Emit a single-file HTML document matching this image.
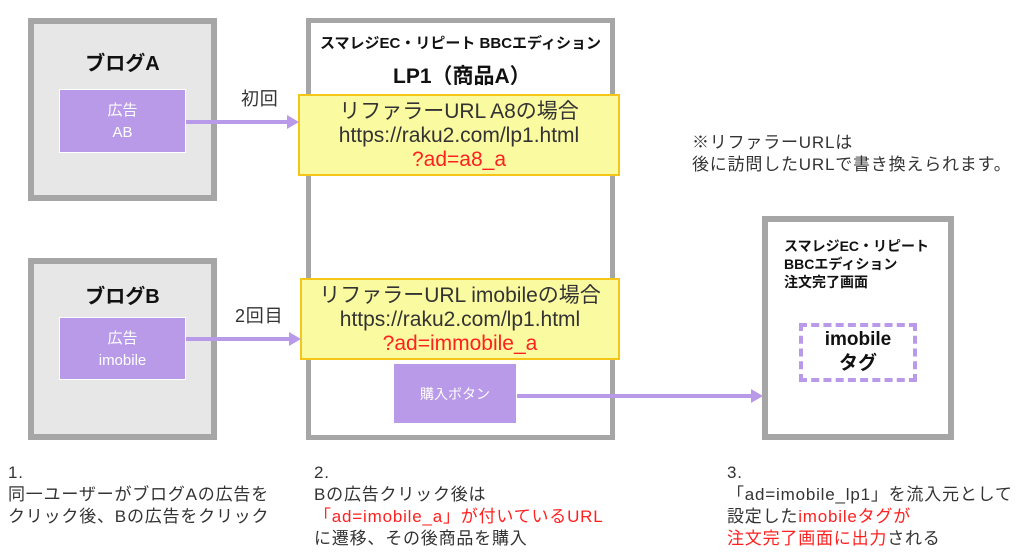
<!DOCTYPE html>
<html><head><meta charset="utf-8"><style>
body{margin:0;width:1024px;height:552px;background:#fff;position:relative;overflow:hidden;font-family:"Liberation Sans","Noto Sans CJK JP",sans-serif;color:#222}
div{position:absolute;box-sizing:border-box}
.blog{border:6px solid #a6a6a6;background:#e7e7e7}
.ad{background:#b89ae8;border:1.5px solid #fff;color:#fff;font-size:15px;text-align:center;line-height:22px}
.yel{background:#fafaa0;border:2px solid #f5c518;text-align:center;font-size:21px;line-height:24px;color:#333;white-space:nowrap}
.r{color:#ff2020}
.line{background:#b89ae8;height:4px}
.ah{width:0;height:0;border-top:7px solid transparent;border-bottom:7px solid transparent;border-left:12px solid #b89ae8}
.t{font-size:17px;line-height:22px;color:#333;white-space:nowrap;letter-spacing:0.8px}
.b{font-weight:bold;color:#111;white-space:nowrap}
</style></head><body>
<div class="blog" style="left:28px;top:18px;width:189px;height:183px"></div>
<div class="b" style="left:28px;top:47px;width:189px;text-align:center;font-size:20px">ブログA</div>
<div class="ad" style="left:59px;top:89px;width:127px;height:64px;padding-top:10px">広告<br>AB</div>

<div class="blog" style="left:28px;top:258px;width:189px;height:182px"></div>
<div class="b" style="left:28px;top:280px;width:189px;text-align:center;font-size:20px">ブログB</div>
<div class="ad" style="left:59px;top:317px;width:127px;height:63px;padding-top:10px">広告<br>imobile</div>

<div style="left:306px;top:18px;width:309px;height:422px;border:5px solid #a6a6a6;background:#fff"></div>
<div class="b" style="left:306px;top:32px;width:309px;text-align:center;font-size:15px">スマレジEC・リピート BBCエディション</div>
<div class="b" style="left:393px;top:60px;font-size:21px">LP1（商品A）</div>

<div class="yel" style="left:298px;top:94px;width:322px;height:82px;padding-top:4px">リファラーURL A8の場合<br>https://raku2.com/lp1.html<br><span class="r">?ad=a8_a</span></div>
<div class="yel" style="left:300px;top:278px;width:320px;height:82px;padding-top:4px">リファラーURL imobileの場合<br>https://raku2.com/lp1.html<br><span class="r">?ad=immobile_a</span></div>
<div class="ad" style="left:393px;top:363px;width:124px;height:61px;padding-top:19px;font-size:14px">購入ボタン</div>

<div class="t" style="left:241px;top:88px;font-size:18px">初回</div>
<div class="line" style="left:186px;top:120px;width:101px"></div><div class="ah" style="left:287px;top:115px"></div>
<div class="t" style="left:235px;top:305px;font-size:18px">2回目</div>
<div class="line" style="left:186px;top:337px;width:103px"></div><div class="ah" style="left:289px;top:332px"></div>
<div class="line" style="left:517px;top:394px;width:235px"></div><div class="ah" style="left:751px;top:389px"></div>

<div class="t" style="left:692px;top:132px">※リファラーURLは<br>後に訪問したURLで書き換えられます。</div>

<div style="left:762px;top:216px;width:192px;height:224px;border:6px solid #a6a6a6;background:#fff"></div>
<div class="b" style="left:784px;top:237px;font-size:14px;line-height:18px">スマレジEC・リピート<br>BBCエディション<br>注文完了画面</div>
<div style="left:799px;top:323px;width:118px;height:59px;border:4px dashed #b89ae8"></div>
<div class="b" style="left:799px;top:328px;width:118px;text-align:center;font-size:19px;line-height:24px">imobile<br>タグ</div>

<div class="t" style="left:8px;top:462px">1.<br>同一ユーザーがブログAの広告を<br>クリック後、Bの広告をクリック</div>
<div class="t" style="left:314px;top:462px">2.<br>Bの広告クリック後は<br><span class="r">「ad=imobile_a」が付いているURL</span><br>に遷移、その後商品を購入</div>
<div class="t" style="left:727px;top:462px">3.<br>「ad=imobile_lp1」を流入元として<br>設定した<span class="r">imobileタグが</span><br><span class="r">注文完了画面に出力</span>される</div>
</body></html>
